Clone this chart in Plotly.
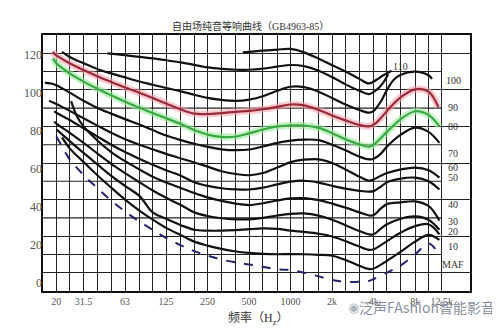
import math
import plotly.graph_objects as go

# ---------------- data ----------------
grid_freqs = [16, 20, 25, 31.5, 40, 50, 63, 80, 100, 125, 160, 200, 250, 315, 400,
              500, 630, 800, 1000, 1250, 1600, 2000, 2500, 3150, 4000, 5000, 6300,
              8000, 10000, 12500]
tick_labels = {20: "20", 31.5: "31.5", 63: "63", 125: "125", 250: "250", 500: "500",
               1000: "1000", 2000: "2k", 4000: "4k", 8000: "8k", 12500: "12.5k"}
y_label_values = [0, 20, 40, 60, 80, 100, 120]

f_120 = [450, 630, 800, 1000, 1250, 1600, 2000, 2500, 3150, 3700, 4200, 4700, 5400]
spl_120 = [120.5, 121.5, 122, 122.4, 120.5, 117, 113.5, 110, 106, 103.5, 105.5, 108, 110.5]

f_110 = [47, 63, 80, 100, 125, 160, 200, 250, 315, 400, 500, 630, 800, 1000, 1250,
         1600, 2000, 2500, 3150, 3700, 4200, 4700, 5100]
spl_110 = [120, 119, 118, 117.2, 116.2, 115, 113.7, 112.3, 111.5, 111, 111, 111.6,
           112.7, 113.6, 113, 110.5, 107, 103, 99.5, 97.7, 100, 104, 108.5]

f_100 = [22, 25, 31.5, 40, 50, 63, 80, 100, 125, 160, 200, 250, 315, 400, 500, 630,
         800, 1000, 1250, 1600, 2000, 2500, 3150, 3700, 4000, 4500, 5000, 5600, 6300,
         8000, 10000, 10600]
spl_100 = [120.8, 118, 114.5, 111.3, 109, 106.8, 104.6, 102.8, 101, 99.2, 97.3, 95.6,
           94.5, 94, 94.7, 96.5, 99.5, 101.7, 101.5, 99, 95.5, 92, 89, 87.5, 88.5, 93.5,
           100, 105.5, 108.3, 110, 108, 106]

f_90 = [18.7, 20, 25, 31.5, 40, 50, 63, 80, 100, 125, 160, 200, 250, 315, 400, 500,
        630, 800, 1000, 1250, 1600, 2000, 2500, 3150, 3700, 4000, 4500, 5000, 6300,
        8000, 10000, 11800]
spl_90 = [120.7, 118.8, 114.5, 110.8, 107.3, 104.3, 101.3, 98.4, 95.6, 92.5, 89.3, 87,
          86.8, 87.3, 88, 88.5, 89.4, 90.7, 92, 91.5, 89, 86, 83.3, 80.8, 80, 81, 84.5,
          88.5, 96, 100.3, 99, 90.5]

f_80 = [19, 20, 25, 31.5, 40, 50, 63, 80, 100, 125, 160, 200, 250, 315, 400, 500, 630,
        800, 1000, 1250, 1600, 2000, 2500, 3150, 3700, 4000, 4500, 5000, 6300, 8000,
        10000, 12000]
spl_80 = [117.3, 114.5, 109, 104.5, 100.5, 97, 93.5, 90.3, 87.3, 84.5, 81.3, 78, 75.5,
          74.3, 74.5, 76.2, 78.3, 80, 80.6, 80.5, 79.2, 76.3, 73, 70.2, 69, 70, 73.5, 77,
          84, 88.3, 86.3, 80]

f_70 = [16.5, 19, 20, 25, 31.5, 40, 50, 63, 80, 100, 125, 160, 200, 250, 315, 400, 500,
        630, 800, 1000, 1250, 1600, 2000, 2500, 3150, 3700, 4000, 4500, 5000, 6300,
        8000, 10000, 12000]
spl_70 = [104, 103.2, 102.5, 98.5, 94, 90, 87, 84, 81, 78, 75, 72.5, 70.5, 68.8, 67.5,
          67, 67.4, 69, 71, 72.2, 72.8, 72.5, 70, 67, 63.5, 62, 62.3, 65, 69, 75.5, 79.3,
          77, 71]

f_60 = [17.7, 20, 25, 31.5, 40, 50, 63, 80, 100, 125, 160, 200, 250, 315, 400, 500, 630,
        800, 1000, 1250, 1600, 2000, 2500, 3150, 3700, 4000, 4500, 5000, 6300, 8000,
        10000, 12000]
spl_60 = [94, 92.3, 88.5, 84.5, 80.3, 76.5, 73, 70, 67.5, 65, 62.5, 60.3, 58, 55.5, 54,
          53.3, 54.5, 57.5, 60.5, 61.8, 62, 60, 56.5, 52.5, 50.3, 51, 53, 54.5, 56.5,
          57.5, 56, 52]

f_50 = [19.3, 20, 25, 31.5, 40, 50, 63, 80, 100, 125, 160, 200, 250, 315, 400, 500, 630,
        800, 1000, 1250, 1600, 2000, 2500, 3150, 3700, 4000, 4500, 5000, 6300, 8000,
        10000, 12000]
spl_50 = [88.3, 87.5, 83.5, 79, 74.3, 70, 66, 62.3, 59, 56, 53, 49.5, 47.5, 46.2, 45.6,
          45.5, 46.5, 48.3, 49.8, 50.3, 49.3, 47.5, 46, 44.8, 44.3, 44.6, 47, 49.5, 51.5,
          52, 50, 45.5]

f_40 = [25.6, 28, 31.5, 40, 50, 63, 80, 100, 125, 160, 200, 250, 315, 400, 500, 630,
        800, 1000, 1250, 1600, 2000, 2500, 3150, 3700, 4000, 4500, 5000, 6300, 8000,
        10000, 12000]
spl_40 = [93.8, 86, 80, 72, 66, 61, 56.5, 52.5, 49.3, 46.3, 43.6, 41.2, 39.3, 37.8, 37,
          38, 39.5, 40.6, 40.8, 39.7, 37.8, 35.6, 33, 31.3, 31.5, 35, 37.5, 38.5, 39, 36.5,
          28.5]

f_30 = [19.3, 20, 25, 31.5, 40, 50, 63, 80, 100, 125, 160, 200, 250, 315, 400, 500, 630,
        800, 1000, 1250, 1600, 2000, 2500, 3150, 3700, 4000, 4500, 5000, 6300, 8000,
        10000, 12000]
spl_30 = [82.8, 81.5, 76.5, 71, 65, 59.5, 54.5, 49.5, 45, 41, 37, 33, 31, 29.8, 29.2,
          29.2, 30, 31.3, 32.2, 32.4, 31.2, 29, 26, 22.8, 21, 21, 24, 26.5, 29.5, 30.8,
          29, 23.5]

f_20 = [20, 25, 31.5, 40, 50, 63, 80, 100, 125, 160, 200, 250, 315, 400, 500, 630, 800,
        1000, 1250, 1600, 2000, 2500, 3150, 3700, 4000, 5000, 6300, 8000, 10000, 12000]
spl_20 = [78.4, 72, 65.5, 59, 53, 47.5, 42, 33, 29.5, 26, 23.5, 23, 23, 23.3, 23.8, 24.2,
          24, 23, 22.3, 21.3, 19.8, 17.3, 14.3, 12.5, 12.8, 17.3, 22, 25.5, 26.5, 21]

f_10 = [22, 25, 31.5, 40, 50, 63, 80, 100, 125, 160, 200, 250, 315, 400, 500, 630, 800,
        1000, 1250, 1600, 2000, 2500, 3150, 3700, 4000, 5000, 6300, 8000, 10000, 12000]
spl_10 = [74, 68, 60.5, 53, 46.5, 40, 34, 29, 24.5, 20.5, 17, 14.8, 13, 11.6, 10.8,
          10.3, 10.1, 10.2, 10.1, 9.8, 9.3, 7, 3.8, 2, 2.3, 6.5, 11.5, 17, 20.7, 18]

f_maf = [20, 22, 25, 31.5, 40, 50, 63, 80, 100, 125, 160, 200, 250, 315, 400, 500, 630,
         800, 1000, 1250, 1600, 2000, 2500, 3150, 3700, 4000, 5000, 6300, 8000, 10000,
         11800]
spl_maf = [74.5, 69, 62, 53.5, 46, 39.5, 33.5, 28, 23.5, 19, 15, 11.8, 9.3, 7.2, 5.6, 4.5,
           3.2, 1.8, 1.5, 0, -2, -4, -5, -5, -4.5, -3.5, 0, 4, 10, 16, 10.7]

curve_labels = ["110", "100", "90", "80", "70", "60", "50", "40", "30", "20", "10", "MAF"]
label_freqs = [6274, 15170, 15170, 15170, 15170, 15170, 15170, 15170, 15170, 15170, 15170, 15170]
label_spl = [113, 105.3, 90.2, 80, 65, 57.5, 52, 37.5, 27.9, 22.4, 14.4, 4.5]

title_text = "自由场纯音等响曲线（GB4963-85）"
xtitle_text = "频率（H<sub>z</sub>）"
watermark_text = "泛声FAshion智能影音"

# ---------------- figure ----------------
fig = go.Figure()

black_curves = [(f_120, spl_120), (f_110, spl_110), (f_100, spl_100), (f_70, spl_70),
                (f_60, spl_60), (f_50, spl_50), (f_40, spl_40), (f_30, spl_30),
                (f_20, spl_20), (f_10, spl_10)]

spl_line = dict(shape="spline", smoothing=1.0)

fig.add_trace(go.Scatter(x=f_90, y=spl_90, mode="lines", line=dict(color="rgba(245,160,170,0.55)", width=7, **spl_line), hoverinfo="skip", showlegend=False))
fig.add_trace(go.Scatter(x=f_80, y=spl_80, mode="lines", line=dict(color="rgba(160,235,160,0.6)", width=7, **spl_line), hoverinfo="skip", showlegend=False))

for fx, sy in black_curves:
    fig.add_trace(go.Scatter(x=fx, y=sy, mode="lines",
                             line=dict(color="#111111", width=2.2, **spl_line),
                             hoverinfo="skip", showlegend=False))

fig.add_trace(go.Scatter(x=f_90, y=spl_90, mode="lines", line=dict(color="#9a2a3a", width=2.2, **spl_line), hoverinfo="skip", showlegend=False))
fig.add_trace(go.Scatter(x=f_80, y=spl_80, mode="lines", line=dict(color="#3aa845", width=2.2, **spl_line), hoverinfo="skip", showlegend=False))
fig.add_trace(go.Scatter(x=f_maf, y=spl_maf, mode="lines", line=dict(color="#23236e", width=2, dash="dash", **spl_line), hoverinfo="skip", showlegend=False))

fig.add_trace(go.Scatter(x=[20], y=[0], yaxis="y2", mode="markers", marker=dict(opacity=0), hoverinfo="skip", showlegend=False))

for v in range(10, 130, 20):
    fig.add_shape(type="line", xref="x", yref="y", x0=16, x1=12500, y0=v, y1=v,
                  line=dict(color="#222222", width=1.1), layer="below")

serif = "Liberation Serif, DejaVu Serif, Noto Sans CJK SC"

for t, fx, sy in zip(curve_labels, label_freqs, label_spl):
    fig.add_annotation(x=math.log10(fx), y=sy, text=t, showarrow=False, xref="x", yref="y",
                       xanchor="center", yanchor="middle",
                       font=dict(family=serif, size=10, color="#333333"))

def paper_note(x, y, text, font):
    fig.add_annotation(x=x, y=y, xref="paper", yref="paper", text=text, showarrow=False,
                       xanchor="center", yanchor="middle", font=font)

paper_note(0.485, 1.035, title_text, dict(family=serif, size=10, color="#333333"))
paper_note(0.503, -0.109, xtitle_text, dict(family=serif, size=12, color="#333333"))
paper_note(0.899, -0.064, watermark_text, dict(family="Noto Sans CJK SC", size=14, color="rgba(110,120,140,0.85)"))
paper_note(0.726, -0.064, "◉", dict(family="DejaVu Sans", size=13, color="rgba(150,160,175,0.8)"))

# the page body adds an 8 px offset; the figure is sized so it fits the 500x328 window
fig.update_layout(
    width=492, height=320,
    margin=dict(l=35, r=30, t=27, b=37, autoexpand=False),
    paper_bgcolor="white", plot_bgcolor="white",
    xaxis=dict(type="log", range=[math.log10(16), math.log10(20000)],
               tickmode="array", tickvals=grid_freqs,
               ticktext=[tick_labels.get(f, "") for f in grid_freqs],
               showgrid=True, gridcolor="#222222", gridwidth=1.1,
               showline=True, linecolor="#111111", linewidth=1.5, mirror=True,
               ticks="", zeroline=False, automargin=False,
               tickfont=dict(family=serif, size=10, color="#555555")),
    yaxis=dict(range=[-10, 130], tickmode="array", tickvals=list(range(0, 130, 20)),
               showgrid=True, gridcolor="#222222", gridwidth=1.1,
               showline=True, linecolor="#111111", linewidth=1.5, mirror=True,
               showticklabels=False, ticks="", zeroline=False, automargin=False),
    yaxis2=dict(overlaying="y", side="left", range=[-4.23, 130.57], tickmode="array",
                tickvals=y_label_values, showgrid=False, zeroline=False, showline=False,
                ticks="", automargin=False,
                tickfont=dict(family=serif, size=12, color="#555555")),
)

fig.write_html("out.html")
